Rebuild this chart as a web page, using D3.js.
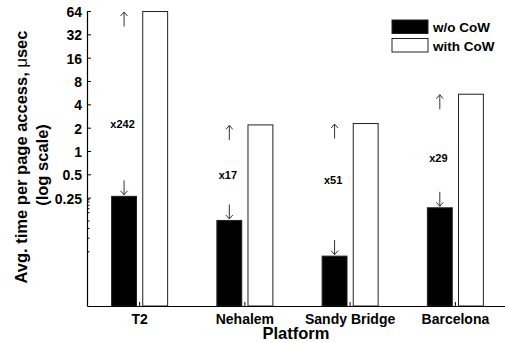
<!DOCTYPE html>
<html>
<head>
<meta charset="utf-8">
<script src="https://cdn.jsdelivr.net/npm/d3@7"></script>
<style>
	html, body { margin: 0; padding: 0; background: #fff; }
	svg { display: block; font-family: 'Liberation Sans', Arial, Helvetica, sans-serif; }
</style>
</head>
<body>
<svg id="chart"></svg>
<script>
const WIDTH = 505;
const HEIGHT = 343;

const platforms = ['T2', 'Nehalem', 'Sandy Bridge', 'Barcelona'];
const seriesNames = ['w/o CoW', 'with CoW'];
const withoutCow = [0.26, 0.127, 0.044, 0.185];
const withCow = [63, 2.17, 2.26, 5.4];
const ratioLabels = ['x242', 'x17', 'x51', 'x29'];
// where the ratio text sits, in axis units
const ratioLabelAt = [2.2, 0.487, 0.418, 0.81];
const yTicks = [0.25, 0.5, 1, 2, 4, 8, 16, 32, 64];
const yMinorTicks = [0.235, 0.22, 0.2, 0.18, 0.16, 0.125, 0.1, 0.075, 0.05];
const yDomain = [0.01, 64];

const margin = { top: 11, right: -3, bottom: 37, left: 87 };

const svg = d3.select('#chart').attr('width', WIDTH).attr('height', HEIGHT);

const y = d3
	.scaleLog()
	.base(2)
	.domain(yDomain)
	.range([HEIGHT - margin.bottom, margin.top]);

const x = d3
	.scaleBand()
	.domain(platforms)
	.range([margin.left, WIDTH - margin.right])
	.padding(0);

const xSub = d3.scaleBand().domain(seriesNames).range([-28, 28]).paddingInner(0.2);

const rows = platforms.map((p, i) => ({
	platform: p,
	values: [
		{ key: seriesNames[0], value: withoutCow[i] },
		{ key: seriesNames[1], value: withCow[i] }
	],
	ratio: ratioLabels[i],
	labelAt: ratioLabelAt[i]
}));

const center = (p) => x(p) + x.bandwidth() / 2;
const fillFor = { 'w/o CoW': '#000', 'with CoW': '#fff' };

// BARS
const groups = svg
	.append('g')
	.selectAll('g')
	.data(rows)
	.enter()
	.append('g')
	.attr('transform', (d) => `translate(${center(d.platform)},0)`);

groups
	.selectAll('rect')
	.data((d) => d.values)
	.enter()
	.append('rect')
	.attr('x', (d) => xSub(d.key))
	.attr('width', xSub.bandwidth())
	.attr('y', (d) => y(d.value))
	.attr('height', (d) => y(yDomain[0]) - y(d.value))
	.attr('fill', (d) => fillFor[d.key])
	.attr('stroke', '#222')
	.attr('stroke-width', 1);

// ARROWS + RATIO TEXT
const arrowX = xSub(seriesNames[0]) + xSub.bandwidth() / 2;

function arrow(g, yFrom, yTo) {
	const dir = yTo < yFrom ? -1 : 1;
	g.append('line')
		.attr('x1', arrowX)
		.attr('x2', arrowX)
		.attr('y1', yFrom)
		.attr('y2', yTo)
		.attr('stroke', '#333')
		.attr('stroke-width', 1);
	g.append('path')
		.attr('d', `M${arrowX - 3.5},${yTo - dir * 4} L${arrowX},${yTo} L${arrowX + 3.5},${yTo - dir * 4}`)
		.attr('fill', 'none')
		.attr('stroke', '#333')
		.attr('stroke-width', 1);
}

groups.each(function (d) {
	const g = d3.select(this);
	const topWhite = y(d.values[1].value);
	const topBlack = y(d.values[0].value);
	arrow(g, topWhite + 15, topWhite + 0.5);
	arrow(g, topBlack - 16, topBlack - 1.5);
});

groups
	.append('text')
	.attr('x', arrowX - 1.5)
	.attr('y', (d) => y(d.labelAt))
	.attr('dy', '0.36em')
	.attr('text-anchor', 'middle')
	.attr('font-size', '11px')
	.attr('font-weight', 'bold')
	.text((d) => d.ratio);

// AXES
const yAxis = svg
	.append('g')
	.attr('transform', `translate(${margin.left},0)`)
	.call(d3.axisLeft(y).tickValues(yTicks).tickFormat(d3.format('~g')).tickSizeInner(-4).tickSizeOuter(0).tickPadding(5));

yAxis.selectAll('text')
	.attr('font-size', '14px')
	.attr('font-weight', 'bold')
	.attr('font-family', null)
	.attr('fill', '#000')
	.attr('y', 1);
yAxis.attr('font-family', null);

yAxis
	.selectAll('.minor')
	.data(yMinorTicks)
	.enter()
	.append('line')
	.attr('class', 'minor')
	.attr('x1', 0)
	.attr('x2', 2.5)
	.attr('y1', (d) => y(d))
	.attr('y2', (d) => y(d))
	.attr('stroke', '#000');

const xAxis = svg
	.append('g')
	.attr('transform', `translate(0,${HEIGHT - margin.bottom})`)
	.call(d3.axisBottom(x).tickSizeInner(-4).tickSizeOuter(0).tickPadding(8));

xAxis.attr('font-family', null);
xAxis.selectAll('text').attr('font-size', '14px').attr('font-weight', 'bold').attr('fill', '#000');

svg.selectAll('.domain').attr('stroke', '#000').attr('stroke-width', 1.2);

// AXIS TITLES
svg.append('text')
	.attr('x', 296)
	.attr('y', 339)
	.attr('text-anchor', 'middle')
	.attr('font-size', '16.5px')
	.attr('font-weight', 'bold')
	.text('Platform');

const yTitle1 = svg
	.append('text')
	.attr('transform', 'translate(27,157) rotate(-90)')
	.attr('text-anchor', 'middle')
	.attr('font-size', '16.5px')
	.attr('font-weight', 'bold');
yTitle1.append('tspan').text('Avg. time per page access, ');
yTitle1.append('tspan').attr('font-weight', 'normal').text('μ');
yTitle1.append('tspan').text('sec');

svg.append('text')
	.attr('transform', 'translate(47.5,165) rotate(-90)')
	.attr('text-anchor', 'middle')
	.attr('font-size', '16.5px')
	.attr('font-weight', 'bold')
	.text('(log scale)');

// LEGEND
const legend = svg
	.append('g')
	.attr('transform', 'translate(392,20)')
	.selectAll('g')
	.data(seriesNames)
	.enter()
	.append('g')
	.attr('transform', (d, i) => `translate(0,${i * 18.5})`);

legend
	.append('rect')
	.attr('width', 36)
	.attr('height', 13.5)
	.attr('fill', (d) => fillFor[d])
	.attr('stroke', '#222')
	.attr('stroke-width', 1);

legend
	.append('text')
	.attr('x', 41)
	.attr('y', 12)
	.attr('font-size', '13.5px')
	.attr('font-weight', 'bold')
	.text((d) => d);
</script>
</body>
</html>
